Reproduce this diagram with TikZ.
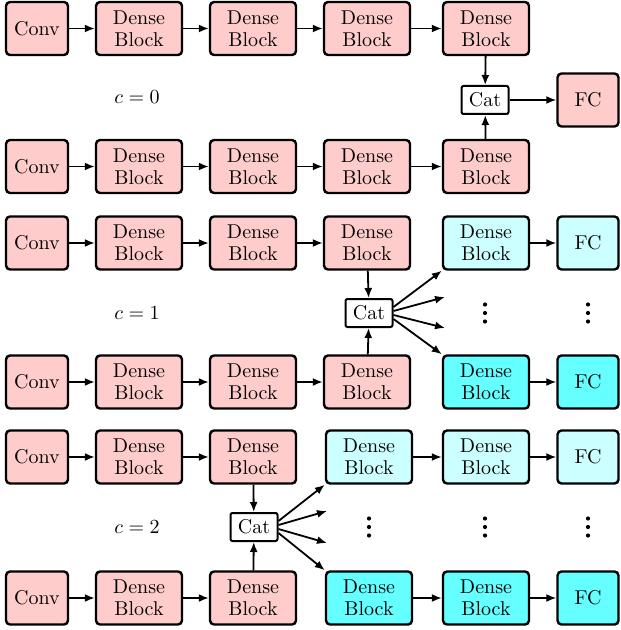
\documentclass[tikz,border=0pt]{standalone}
\usetikzlibrary{arrows.meta}
\definecolor{pinkf}{RGB}{255,204,204}
\definecolor{cyanl}{RGB}{204,255,255}
\definecolor{cyand}{RGB}{102,255,255}
\begin{document}
\begin{tikzpicture}[x=0.5pt,y=-0.5pt,
  blk/.style={draw, line width=1.2pt, rounded corners=2pt, minimum height=26.5pt, align=center, inner sep=0pt, font=\fontsize{10}{11}\selectfont},
  db/.style={blk, minimum width=43pt},
  convb/.style={blk, minimum width=31pt},
  fcb/.style={blk, minimum width=30.5pt},
  pk/.style={fill=pinkf},
  lc/.style={fill=cyanl},
  dc/.style={fill=cyand},
  catb/.style={draw, line width=1pt, fill=white, rounded corners=1pt, minimum width=23.5pt, minimum height=14pt, inner sep=0pt},
  arr/.style={-{Latex[length=5pt,width=4pt]}, line width=0.9pt},
  lab/.style={inner sep=0pt},
  vd/.style={inner sep=0pt, minimum size=2pt,
    append after command={\pgfextra{\let\vdn\tikzlastnode
      \fill (\vdn.center) circle (1.05pt);
      \fill ([yshift=4.25pt]\vdn.center) circle (1.05pt);
      \fill ([yshift=-4.25pt]\vdn.center) circle (1.05pt);}}}]
\useasboundingbox (0,0) rectangle (620,630);
% ---------- c = 0 ----------
\node[convb,pk] (a0) at (37,28.5) {Conv};
\node[db,pk] (a1) at (139,28.5) {Dense\\Block};
\node[db,pk] (a2) at (253,28.5) {Dense\\Block};
\node[db,pk] (a3) at (367,28.5) {Dense\\Block};
\node[db,pk] (a4) at (486,28.5) {Dense\\Block};
\node[convb,pk] (b0) at (37,166.5) {Conv};
\node[db,pk] (b1) at (139,166.5) {Dense\\Block};
\node[db,pk] (b2) at (253,166.5) {Dense\\Block};
\node[db,pk] (b3) at (367,166.5) {Dense\\Block};
\node[db,pk] (b4) at (486,166.5) {Dense\\Block};
\node[catb] (cat0) at (485,100) {Cat};
\node[fcb,pk] (fc0) at (588,100) {FC};
\node[lab] (l0) at (137,97) {$c=0$};
\draw[arr] (a0) -- (a1); \draw[arr] (a1) -- (a2); \draw[arr] (a2) -- (a3); \draw[arr] (a3) -- (a4);
\draw[arr] (b0) -- (b1); \draw[arr] (b1) -- (b2); \draw[arr] (b2) -- (b3); \draw[arr] (b3) -- (b4);
\draw[arr] (a4) -- (cat0); \draw[arr] (b4) -- (cat0); \draw[arr] (cat0) -- (fc0);
% ---------- c = 1 ----------
\node[convb,pk] (c0) at (37,243) {Conv};
\node[db,pk] (c1) at (139,243) {Dense\\Block};
\node[db,pk] (c2) at (253,243) {Dense\\Block};
\node[db,pk] (c3) at (367,243) {Dense\\Block};
\node[db,lc] (c4) at (486,243) {Dense\\Block};
\node[fcb,lc] (c5) at (588,243) {FC};
\node[convb,pk] (d0) at (37,382) {Conv};
\node[db,pk] (d1) at (139,382) {Dense\\Block};
\node[db,pk] (d2) at (253,382) {Dense\\Block};
\node[db,pk] (d3) at (367,382) {Dense\\Block};
\node[db,dc] (d4) at (486,382) {Dense\\Block};
\node[fcb,dc] (d5) at (588,382) {FC};
\node[catb] (cat1) at (369,313) {Cat};
\node[lab] (l1) at (137,313) {$c=1$};
\node[vd] (v14) at (485,313) {};
\node[vd] (v15) at (588,313) {};
\coordinate (m11) at (445,297);
\coordinate (m12) at (445,328);
\draw[arr] (c0) -- (c1); \draw[arr] (c1) -- (c2); \draw[arr] (c2) -- (c3); \draw[arr] (c4) -- (c5);
\draw[arr] (d0) -- (d1); \draw[arr] (d1) -- (d2); \draw[arr] (d2) -- (d3); \draw[arr] (d4) -- (d5);
\draw[arr] (c3) -- (cat1); \draw[arr] (d3) -- (cat1);
\draw[arr] ([yshift=3pt]cat1.east) -- (c4.south west);
\draw[arr] ([yshift=1pt]cat1.east) -- (m11);
\draw[arr] ([yshift=-1pt]cat1.east) -- (m12);
\draw[arr] ([yshift=-3pt]cat1.east) -- (d4.north west);
% ---------- c = 2 ----------
\node[convb,pk] (e0) at (37,457) {Conv};
\node[db,pk] (e1) at (139,457) {Dense\\Block};
\node[db,pk] (e2) at (253,457) {Dense\\Block};
\node[db,lc] (e3) at (369,457) {Dense\\Block};
\node[db,lc] (e4) at (486,457) {Dense\\Block};
\node[fcb,lc] (e5) at (588,457) {FC};
\node[convb,pk] (f0) at (37,598) {Conv};
\node[db,pk] (f1) at (139,598) {Dense\\Block};
\node[db,pk] (f2) at (253,598) {Dense\\Block};
\node[db,dc] (f3) at (369,598) {Dense\\Block};
\node[db,dc] (f4) at (486,598) {Dense\\Block};
\node[fcb,dc] (f5) at (588,598) {FC};
\node[catb] (cat2) at (254,527) {Cat};
\node[lab] (l2) at (137,527) {$c=2$};
\node[vd] (v23) at (369,527) {};
\node[vd] (v24) at (485,527) {};
\node[vd] (v25) at (588,527) {};
\coordinate (m21) at (327,511);
\coordinate (m22) at (327,543);
\draw[arr] (e0) -- (e1); \draw[arr] (e1) -- (e2); \draw[arr] (e3) -- (e4); \draw[arr] (e4) -- (e5);
\draw[arr] (f0) -- (f1); \draw[arr] (f1) -- (f2); \draw[arr] (f3) -- (f4); \draw[arr] (f4) -- (f5);
\draw[arr] (e2) -- (cat2); \draw[arr] (f2) -- (cat2);
\draw[arr] ([yshift=3pt]cat2.east) -- (e3.south west);
\draw[arr] ([yshift=1pt]cat2.east) -- (m21);
\draw[arr] ([yshift=-1pt]cat2.east) -- (m22);
\draw[arr] ([yshift=-3pt]cat2.east) -- (f3.north west);
\end{tikzpicture}
\end{document}
